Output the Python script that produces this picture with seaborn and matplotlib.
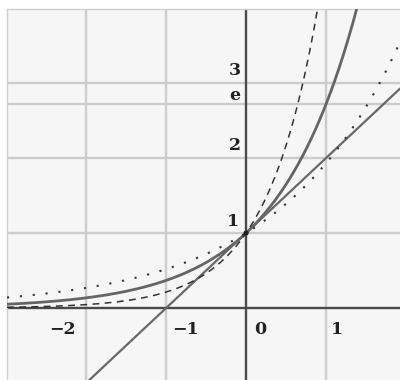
import numpy as np
import pandas as pd
import matplotlib
matplotlib.use("Agg")
import matplotlib.pyplot as plt
import seaborn as sns

# --- data ---
curve_names = ["2^x", "e^x", "b^x"]
curve_bases = [1.93, np.e, 4.7]
tangent_slope = 1.0
tangent_intercept = 1.0
x_ticks = [-2, -1, 0, 1]
x_tick_labels = ["\u22122", "\u22121", "0", "1"]
y_ticks = [1, 2, np.e, 3]
y_tick_labels = ["1", "2", "e", "3"]

XMIN, XMAX = -2.99, 1.925
YMIN, YMAX = -0.96, 3.987

sns.set_style("white")
plt.rcParams["font.family"] = ["DejaVu Serif", "DejaVu Sans"]

fig = plt.figure(figsize=(4.0, 3.8), dpi=100)
ax = fig.add_axes([7 / 400, 0, 393 / 400, 371 / 380])
ax.set_facecolor("#f6f6f6")

xs = np.linspace(XMIN, XMAX, 600)
rows = []
for name, b in zip(curve_names, curve_bases):
    ys = np.power(b, xs)
    for xv, yv in zip(xs, ys):
        rows.append((name, xv, yv))
df = pd.DataFrame(rows, columns=["curve", "x", "y"])
df = df[df.y <= YMAX + 0.3]

tan_df = pd.DataFrame({"x": [XMIN, XMAX]})
tan_df["y"] = tangent_slope * tan_df.x + tangent_intercept

# grid lines
for xv in x_ticks:
    if xv != 0:
        ax.axvline(xv, color="#cccccc", lw=1.7, zorder=1)
for yv in y_ticks:
    ax.axhline(yv, color="#cccccc", lw=1.7, zorder=1)

# axes lines
ax.axhline(0, color="#4a4a4a", lw=1.7, zorder=2)
ax.axvline(0, color="#4a4a4a", lw=1.7, zorder=2)

# curves
sns.lineplot(data=df[df.curve == "e^x"], x="x", y="y", color="#656565",
             lw=2.0, ax=ax, zorder=4, sort=False)
sns.lineplot(data=tan_df, x="x", y="y", color="#686868", lw=1.6, ax=ax,
             zorder=4, sort=False)
sns.lineplot(data=df[df.curve == "b^x"], x="x", y="y", color="#333333",
             lw=1.1, ax=ax, zorder=5, sort=False)
ax.lines[-1].set_dashes((4.5, 3.5))
sns.lineplot(data=df[df.curve == "2^x"], x="x", y="y", color="#333333",
             lw=1.5, ax=ax, zorder=5, sort=False)
ax.lines[-1].set_dashes((1.0, 5.2))

sns.scatterplot(x=[0], y=[1], color="#222222", s=14, ax=ax, zorder=6,
                edgecolor="none")

# tick labels as text
lab_kw = dict(fontsize=12.5, fontweight="bold", color="#222222",
              ha="center", va="center", zorder=7)
x_label_pos = [-2.3, -0.76, 0.175, 1.14]
for xp, t in zip(x_label_pos, x_tick_labels):
    ax.text(xp, -0.28, t, **lab_kw)
y_label_pos = [(-0.16, 1.15), (-0.14, 2.17), (-0.14, 2.84), (-0.14, 3.17)]
for (xp, yp), t in zip(y_label_pos, y_tick_labels):
    ax.text(xp, yp, t, **lab_kw)

ax.set_xlim(XMIN, XMAX)
ax.set_ylim(YMIN, YMAX)
ax.set_xticks([])
ax.set_yticks([])
ax.set_xlabel("")
ax.set_ylabel("")
for s in ["right", "bottom"]:
    ax.spines[s].set_visible(False)
for s in ["top", "left"]:
    ax.spines[s].set_color("#d0d0d0")
    ax.spines[s].set_linewidth(1.0)

fig.savefig("out.png", dpi=100, facecolor="white")
